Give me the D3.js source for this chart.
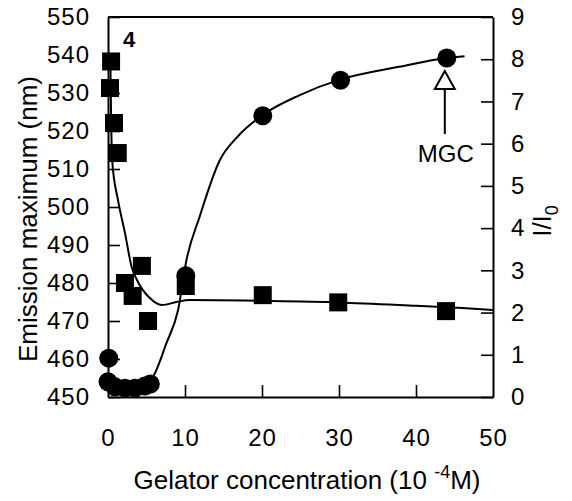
<!DOCTYPE html>
<html>
<head>
<meta charset="utf-8">
<script src="https://cdn.jsdelivr.net/npm/d3@7"></script>
<style>
  body { margin: 0; background: #fff; }
  text { font-family: "Liberation Sans", Arial, sans-serif; fill: #000; }
</style>
</head>
<body>
<div id="chart"></div>
<script>
// gelator concentration (10^-4 M) for each measured point
var squareX = [0.4, 0.26, 0.78, 1.27, 2.2, 4.4, 3.2, 5.2, 10.1, 20.1, 29.9, 43.9];
// emission maximum (nm), left axis
var squareY = [538.3, 531.3, 522.1, 514.2, 480.0, 484.5, 476.6, 470.0, 479.2, 476.8, 474.9, 472.6];

var circleX = [0.1, 0.0, 0.9, 2.2, 3.5, 4.8, 5.5, 10.1, 20.1, 30.2, 44.0];
// I/I0, right axis
var circleY = [0.92, 0.36, 0.24, 0.21, 0.21, 0.26, 0.31, 2.87, 6.66, 7.5, 8.03];

// fitted curves
var emFitX = [0.3, 0.4, 0.55, 1.3, 2.2, 3.1, 3.76, 5.4, 7.0, 8.9, 10.6, 20, 30, 40, 46, 50];
var emFitY = [540, 524, 512, 501.8, 493.2, 484.0, 480.8, 476.1, 474.2, 475.0, 475.5, 475.3, 474.9, 474.0, 473.4, 472.9];

var inFitX = [0, 2, 4, 5, 5.8, 7.6, 9.1, 10.2, 11.9, 14.5, 17, 20.1, 24.9, 30, 37.8, 44, 46.3];
var inFitY = [0.3, 0.22, 0.25, 0.33, 0.47, 1.28, 2.06, 3.25, 4.27, 5.6, 6.2, 6.68, 7.15, 7.51, 7.82, 8.03, 8.07];

var xTicks = [0, 10, 20, 30, 40, 50];
var leftTicks = [450, 460, 470, 480, 490, 500, 510, 520, 530, 540, 550];
var rightTicks = [0, 1, 2, 3, 4, 5, 6, 7, 8, 9];

var mgcX = 44, mgcY = 7.72;

var width = 572, height = 501;
var plotL = 108, plotR = 493, plotT = 17, plotB = 397;

var svg = d3.select("#chart").append("svg")
    .attr("width", width)
    .attr("height", height);

var x = d3.scaleLinear().domain([0, 50]).range([plotL, plotR]);
var yL = d3.scaleLinear().domain([450, 550]).range([plotB, plotT]);
var yR = d3.scaleLinear().domain([0, 9]).range([plotB, plotT]);

/* axes, ticks point inward */
var gx = svg.append("g")
    .attr("transform", "translate(0," + plotB + ")")
    .call(d3.axisBottom(x).tickValues(xTicks).tickSizeInner(-12).tickSizeOuter(0).tickPadding(32));

var gl = svg.append("g")
    .attr("transform", "translate(" + plotL + ",0)")
    .call(d3.axisLeft(yL).tickValues(leftTicks).tickSizeInner(-12).tickSizeOuter(0).tickPadding(18));

var gr = svg.append("g")
    .attr("transform", "translate(" + plotR + ",0)")
    .call(d3.axisRight(yR).tickValues(rightTicks).tickSizeInner(-12).tickSizeOuter(0).tickPadding(18));

[gx, gl, gr].forEach(function(g){
    g.select(".domain").attr("stroke", "#000").attr("stroke-width", 2);
    g.selectAll(".tick line").attr("stroke", "#000").attr("stroke-width", 1.6);
    g.selectAll(".tick text").attr("font-size", 24).attr("letter-spacing", 1)
        .attr("font-family", "Liberation Sans, Arial, sans-serif").attr("fill", "#000");
});
// no tick marks at the ends of the bottom axis
gx.selectAll(".tick line").filter(function(d){ return d === 0 || d === 50; }).remove();

// top border
svg.append("line")
    .attr("x1", plotL).attr("x2", plotR)
    .attr("y1", plotT).attr("y2", plotT)
    .attr("stroke", "#000").attr("stroke-width", 2);

/* fit curves */
var emLine = d3.line()
    .x(function(d, i){ return x(emFitX[i]); })
    .y(function(d){ return yL(d); })
    .curve(d3.curveMonotoneX);

svg.append("path")
    .attr("d", emLine(emFitY))
    .attr("fill", "none").attr("stroke", "#000").attr("stroke-width", 2);

var inLine = d3.line()
    .x(function(d, i){ return x(inFitX[i]); })
    .y(function(d){ return yR(d); })
    .curve(d3.curveMonotoneX);

svg.append("path")
    .attr("d", inLine(inFitY))
    .attr("fill", "none").attr("stroke", "#000").attr("stroke-width", 2);

/* markers */
var side = 18;
svg.selectAll("rect.sq")
    .data(squareY)
    .enter()
    .append("rect")
    .attr("class", "sq")
    .attr("x", function(d, i){ return x(squareX[i]) - side / 2; })
    .attr("y", function(d){ return yL(d) - side / 2; })
    .attr("width", side)
    .attr("height", side)
    .attr("fill", "#000");

svg.selectAll("circle.pt")
    .data(circleY)
    .enter()
    .append("circle")
    .attr("class", "pt")
    .attr("cx", function(d, i){ return x(circleX[i]); })
    .attr("cy", function(d){ return yR(d); })
    .attr("r", 9.5)
    .attr("fill", "#000");

/* MGC arrow */
var ax = x(mgcX) - 2, tip = yR(mgcY);
svg.append("path")
    .attr("d", "M" + ax + "," + tip + "L" + (ax - 10) + "," + (tip + 18) + "L" + (ax + 10) + "," + (tip + 18) + "Z")
    .attr("fill", "#fff").attr("stroke", "#000").attr("stroke-width", 2);
svg.append("line")
    .attr("x1", ax).attr("x2", ax)
    .attr("y1", tip + 18).attr("y2", tip + 63)
    .attr("stroke", "#000").attr("stroke-width", 2);
svg.append("text")
    .attr("x", ax + 1).attr("y", tip + 91)
    .attr("text-anchor", "middle")
    .attr("font-size", 24)
    .text("MGC");

svg.append("text")
    .attr("x", 123).attr("y", 47)
    .attr("font-size", 22)
    .attr("font-weight", "bold")
    .text("4");

/* axis titles */
var xt = svg.append("text")
    .attr("x", 307).attr("y", 489)
    .attr("text-anchor", "middle")
    .attr("font-size", 26);
xt.append("tspan").text("Gelator concentration (10 ");
xt.append("tspan").attr("dy", -11).attr("font-size", 18).text("-4");
xt.append("tspan").attr("dy", 11).text("M)");

svg.append("text")
    .attr("transform", "translate(37,219) rotate(-90)")
    .attr("text-anchor", "middle")
    .attr("font-size", 26)
    .text("Emission maximum (nm)");

var rt = svg.append("text")
    .attr("transform", "translate(551,221) rotate(-90)")
    .attr("text-anchor", "middle")
    .attr("font-size", 26);
rt.append("tspan").text("I/I");
rt.append("tspan").attr("dy", 7).attr("font-size", 18).text("0");
</script>
</body>
</html>
